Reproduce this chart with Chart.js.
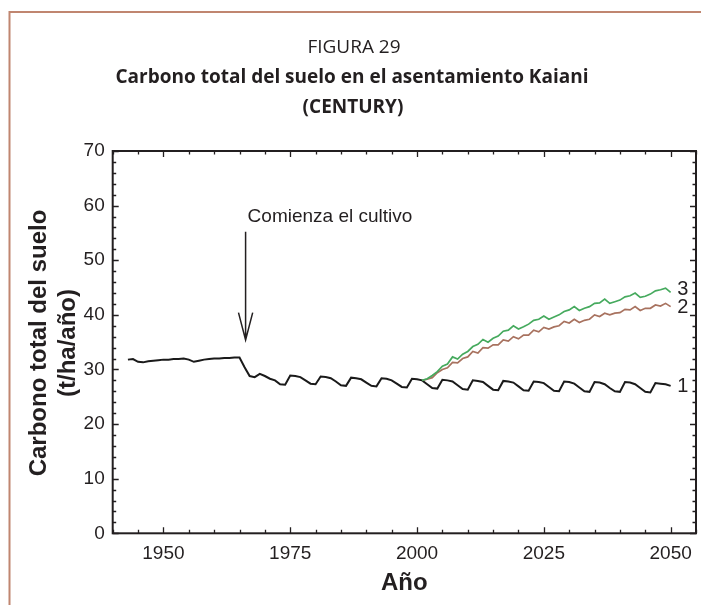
<!DOCTYPE html>
<html>
<head>
<meta charset="utf-8">
<script src="https://cdn.jsdelivr.net/npm/chart.js@4.4.1/dist/chart.umd.min.js"></script>
<style>
  html, body { margin: 0; padding: 0; background: #fff; }
  #wrap { width: 701px; height: 605px; }
</style>
</head>
<body>
<div id="wrap"><canvas id="chart" width="701" height="605"></canvas></div>
<script>
// years and values
const years1 = [
  1943, 1944, 1945, 1946, 1947, 1948, 1949, 1950, 1951, 1952, 1953, 1954, 1955, 1956, 1957, 1958,
  1959, 1960, 1961, 1962, 1963, 1964, 1965, 1966, 1967, 1968, 1969, 1970, 1971, 1972, 1973, 1974,
  1975, 1976, 1977, 1978, 1979, 1980, 1981, 1982, 1983, 1984, 1985, 1986, 1987, 1988, 1989, 1990,
  1991, 1992, 1993, 1994, 1995, 1996, 1997, 1998, 1999, 2000, 2001, 2002, 2003, 2004, 2005, 2006,
  2007, 2008, 2009, 2010, 2011, 2012, 2013, 2014, 2015, 2016, 2017, 2018, 2019, 2020, 2021, 2022,
  2023, 2024, 2025, 2026, 2027, 2028, 2029, 2030, 2031, 2032, 2033, 2034, 2035, 2036, 2037, 2038,
  2039, 2040, 2041, 2042, 2043, 2044, 2045, 2046, 2047, 2048, 2049, 2050
];
const carbon1 = [
  31.8, 31.9, 31.4, 31.3, 31.5, 31.6, 31.7, 31.8, 31.8, 31.9, 31.9, 32.0, 31.8, 31.4, 31.6, 31.8,
  31.9, 32.0, 32.0, 32.1, 32.1, 32.2, 32.2, 30.4, 28.8, 28.6, 29.2, 28.8, 28.3, 28.0, 27.3, 27.2,
  28.9, 28.8, 28.6, 28.0, 27.4, 27.3, 28.7, 28.6, 28.4, 27.8, 27.1, 27.0, 28.5, 28.4, 28.2, 27.6,
  27.0, 26.9, 28.4, 28.3, 28.0, 27.4, 26.8, 26.7, 28.3, 28.2, 28.0, 27.3, 26.6, 26.5, 28.1, 28.0,
  27.8, 27.1, 26.4, 26.3, 28.0, 27.9, 27.7, 27.0, 26.3, 26.2, 27.9, 27.8, 27.6, 26.9, 26.2, 26.1,
  27.8, 27.7, 27.5, 26.8, 26.1, 26.0, 27.8, 27.7, 27.4, 26.7, 26.0, 25.9, 27.7, 27.6, 27.3, 26.6,
  26.0, 25.9, 27.7, 27.6, 27.3, 26.6, 25.9, 25.8, 27.5, 27.4, 27.3, 27.0
];
const years23 = [
  2001, 2002, 2003, 2004, 2005, 2006, 2007, 2008, 2009, 2010, 2011, 2012, 2013, 2014, 2015, 2016, 2017,
  2018, 2019, 2020, 2021, 2022, 2023, 2024, 2025, 2026, 2027, 2028, 2029, 2030, 2031, 2032, 2033, 2034,
  2035, 2036, 2037, 2038, 2039, 2040, 2041, 2042, 2043, 2044, 2045, 2046, 2047, 2048, 2049, 2050
];
const carbon2 = [
  28.0, 28.2, 28.5, 29.4, 30.0, 30.3, 31.3, 31.2, 32.0, 32.3, 33.3, 33.0, 34.0, 33.9, 34.5, 34.5, 35.4,
  35.2, 36.0, 35.6, 36.3, 36.3, 37.2, 36.9, 37.7, 37.4, 37.8, 38.0, 38.8, 38.5, 39.2, 38.6, 39.0, 39.2,
  40.0, 39.7, 40.3, 40.0, 40.3, 40.4, 41.0, 40.9, 41.5, 40.8, 41.2, 41.2, 41.8, 41.6, 42.1, 41.5
];
const carbon3 = [
  28.0, 28.3, 28.9, 29.6, 30.6, 31.0, 32.3, 31.9, 32.8, 33.3, 34.2, 34.6, 35.5, 35.0, 35.7, 36.1, 37.0,
  37.2, 38.0, 37.4, 37.8, 38.3, 39.0, 39.2, 39.8, 39.2, 39.6, 40.0, 40.6, 40.9, 41.5, 40.8, 41.2, 41.5,
  42.1, 42.2, 42.9, 42.1, 42.4, 42.7, 43.3, 43.5, 44.0, 43.2, 43.4, 43.8, 44.4, 44.6, 44.9, 44.1
];
const seriesLabels = ['1', '2', '3'];
const xLabelYears = [1950, 1975, 2000, 2025, 2050];
const yLabelValues = [0, 10, 20, 30, 40, 50, 60, 70];

const ink = '#231f20';
const tickFont = { family: '"Liberation Sans", Arial, sans-serif', size: 19 };

function toPoints(xs, ys) {
  return xs.map((x, i) => ({ x: x, y: ys[i] }));
}

// frame, inward ticks, titles and annotation
const decorPlugin = {
  id: 'decor',
  afterDraw(chart) {
    const ctx = chart.ctx;
    const area = chart.chartArea;
    const xs = chart.scales.x;
    const ys = chart.scales.y;
    ctx.save();

    // page frame (top and left)
    ctx.strokeStyle = '#c08670';
    ctx.lineWidth = 2;
    ctx.beginPath();
    ctx.moveTo(701, 12);
    ctx.lineTo(9.5, 12);
    ctx.lineTo(9.5, 605);
    ctx.stroke();

    // plot box
    ctx.strokeStyle = ink;
    ctx.lineWidth = 2;
    ctx.strokeRect(area.left, area.top, area.right - area.left, area.bottom - area.top);

    // inward ticks on all four sides
    ctx.lineWidth = 1.3;
    ctx.beginPath();
    xs.ticks.forEach(t => {
      const px = Math.round(xs.getPixelForValue(t.value)) + 0.5;
      const len = xLabelYears.includes(t.value) ? 6 : 3.5;
      ctx.moveTo(px, area.bottom); ctx.lineTo(px, area.bottom - len);
      ctx.moveTo(px, area.top); ctx.lineTo(px, area.top + len);
    });
    ys.ticks.forEach(t => {
      const py = Math.round(ys.getPixelForValue(t.value)) + 0.5;
      const len = yLabelValues.includes(t.value) ? 6 : 3.5;
      ctx.moveTo(area.left, py); ctx.lineTo(area.left + len, py);
      ctx.moveTo(area.right, py); ctx.lineTo(area.right - len, py);
    });
    ctx.stroke();

    // titles
    ctx.fillStyle = ink;
    ctx.textAlign = 'center';
    ctx.textBaseline = 'middle';
    ctx.font = '19px "Open Sans", sans-serif';
    ctx.fillText('FIGURA 29', 354, 48);
    ctx.font = 'bold 19px "Open Sans", sans-serif';
    ctx.fillText('Carbono total del suelo en el asentamiento Kaiani', 352, 78);
    ctx.fillText('(CENTURY)', 353, 108);

    // axis titles
    ctx.font = 'bold 24px "Liberation Sans", Arial, sans-serif';
    ctx.fillText('Año', (area.left + area.right) / 2, 583);
    ctx.save();
    ctx.translate(39, 343);
    ctx.rotate(-Math.PI / 2);
    ctx.fillText('Carbono total del suelo', 0, 0);
    ctx.restore();
    ctx.save();
    ctx.translate(68, 343);
    ctx.rotate(-Math.PI / 2);
    ctx.fillText('(t/ha/año)', 0, 0);
    ctx.restore();

    // annotation arrow
    const ax = xs.getPixelForValue(1966.2);
    const aTop = ys.getPixelForValue(55.2);
    const aTip = ys.getPixelForValue(35.4);
    const aHead = ys.getPixelForValue(40.4);
    const hw = xs.getPixelForValue(1967.6) - ax;
    ctx.lineWidth = 1.5;
    ctx.beginPath();
    ctx.moveTo(ax, aTop); ctx.lineTo(ax, aTip);
    ctx.moveTo(ax - hw, aHead); ctx.lineTo(ax, aTip); ctx.lineTo(ax + hw, aHead);
    ctx.stroke();
    ctx.textAlign = 'left';
    ctx.font = '19px "Liberation Sans", Arial, sans-serif';
    ctx.fillText('Comienza el cultivo', xs.getPixelForValue(1966.6), ys.getPixelForValue(57.9));

    // series numbers at line ends
    ctx.font = '20px "Liberation Sans", Arial, sans-serif';
    const lx = xs.getPixelForValue(2051.3);
    ctx.fillText(seriesLabels[0], lx, ys.getPixelForValue(26.8));
    ctx.fillText(seriesLabels[1], lx, ys.getPixelForValue(41.3));
    ctx.fillText(seriesLabels[2], lx, ys.getPixelForValue(44.7));

    ctx.restore();
  }
};

new Chart(document.getElementById('chart'), {
  type: 'line',
  data: {
    datasets: [
      {
        label: seriesLabels[2],
        data: toPoints(years23, carbon3),
        borderColor: '#46aa5e',
        borderWidth: 1.7,
        pointRadius: 0,
        tension: 0
      },
      {
        label: seriesLabels[1],
        data: toPoints(years23, carbon2),
        borderColor: '#a8725f',
        borderWidth: 1.7,
        pointRadius: 0,
        tension: 0
      },
      {
        label: seriesLabels[0],
        data: toPoints(years1, carbon1),
        borderColor: '#1a1a1a',
        borderWidth: 2,
        pointRadius: 0,
        tension: 0
      }
    ]
  },
  options: {
    responsive: false,
    animation: false,
    devicePixelRatio: 1,
    layout: { padding: { left: 0, right: 5, top: 151, bottom: 0 } },
    plugins: {
      legend: { display: false },
      tooltip: { enabled: false }
    },
    scales: {
      x: {
        type: 'linear',
        min: 1940,
        max: 2055,
        grid: { display: false, drawTicks: false },
        border: { display: false },
        ticks: {
          stepSize: 5,
          autoSkip: false,
          maxRotation: 0,
          padding: 9,
          color: ink,
          font: tickFont,
          callback: v => xLabelYears.includes(v) ? String(v) : ''
        },
        afterFit: scale => {
          scale.height = 71.7;
          scale.paddingLeft = 0;
          scale.paddingRight = 0;
        }
      },
      y: {
        min: 0,
        max: 70,
        grid: { display: false, drawTicks: false },
        border: { display: false },
        ticks: {
          stepSize: 2,
          autoSkip: false,
          padding: 8,
          color: ink,
          font: tickFont,
          callback: v => yLabelValues.includes(v) ? String(v) : ''
        },
        afterFit: scale => { scale.width = 112.7; }
      }
    }
  },
  plugins: [decorPlugin]
});
</script>
</body>
</html>
